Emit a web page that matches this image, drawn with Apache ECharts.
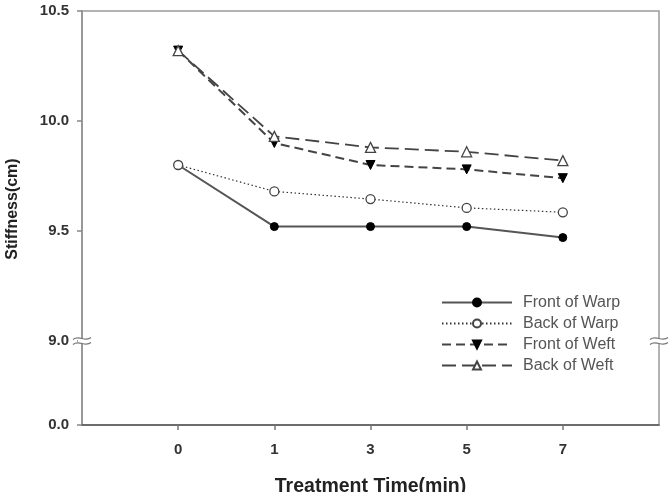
<!DOCTYPE html>
<html><head><meta charset="utf-8">
<script src="https://cdn.jsdelivr.net/npm/echarts@6/dist/echarts.min.js"></script>
<style>html,body{margin:0;padding:0;background:#fff}#c{width:670px;height:492px}</style>
</head><body><div id="c"></div>
<script>
// Treatment time categories (min) and their positions on the x axis
const timeLabels = ['0', '1', '3', '5', '7'];
const xPos = [1, 2, 3, 4, 5];
// Stiffness (cm)
const frontWarp = [9.80, 9.52, 9.52, 9.52, 9.47];
const backWarp  = [9.80, 9.68, 9.645, 9.605, 9.585];
const frontWeft = [10.32, 9.90, 9.80, 9.78, 9.74];
const backWeft  = [10.32, 9.93, 9.88, 9.86, 9.82];
// y tick labels (broken axis: 0.0 then 9.0 .. 10.5)
const yTickLabels = ['0.0', '9.0', '9.5', '10.0', '10.5'];
const yTickValues = [0, 9, 9.5, 10, 10.5];

// Broken-axis transform: values >= 9 map linearly; 0 maps just below 9
const BREAK = 9, ZERO_POS = 8.618;
function tf(v){ return v >= BREAK ? v : ZERO_POS + (v / BREAK) * (BREAK - ZERO_POS); }
const yTicksT = yTickValues.map(tf);

function pts(arr){ return arr.map((v,i)=>[xPos[i], tf(v)]); }

const chart = echarts.init(document.getElementById('c'), null, {renderer:'canvas'});
const font = 'Liberation Sans, Arial, sans-serif';
const opt = {
  animation:false,
  backgroundColor:'#fff',
  grid:{left:82, right:11, top:11, bottom:67, containLabel:false, outerBoundsMode:'none',
        show:true, borderColor:'#9a9a9a', borderWidth:1.5, backgroundColor:'transparent'},
  legend:{
    orient:'vertical', left:436, top:288, itemWidth:70, itemHeight:10, itemGap:2,
    textStyle:{fontFamily:font, fontSize:16, lineHeight:19, color:'#555', padding:[0,0,0,6]},
    data:['Front of Warp','Back of Warp','Front of Weft','Back of Weft']
  },
  xAxis:{
    type:'value', min:0, max:6, interval:1,
    name:'Treatment Time(min)', nameLocation:'middle', nameGap:52,
    nameTextStyle:{fontFamily:font, fontSize:19.5, fontWeight:'bold', color:'#222'},
    axisLine:{show:true, lineStyle:{color:'#555', width:1.5}},
    axisTick:{show:true, length:5, inside:false, customValues:xPos, lineStyle:{color:'#777', width:1.5}},
    axisLabel:{customValues:xPos, margin:17, fontFamily:font, fontSize:15, fontWeight:'bold', color:'#333',
      formatter:(v)=>{const i=xPos.indexOf(Math.round(v)); return i>=0?timeLabels[i]:'';}},
    splitLine:{show:false}
  },
  yAxis:{
    type:'value', min:ZERO_POS, max:10.5,
    name:'Stiffness(cm)', nameLocation:'middle', nameGap:61,
    nameTextStyle:{fontFamily:font, fontSize:16, fontWeight:'bold', color:'#222', padding:[0,0,0,18]},
    axisLine:{show:true, lineStyle:{color:'#999', width:2}},
    axisTick:{show:true, length:5, customValues:yTicksT, lineStyle:{color:'#888', width:1.5}},
    axisLabel:{customValues:yTicksT, margin:13, fontFamily:font, fontSize:15, fontWeight:'bold', color:'#333',
      formatter:(v)=>{let best=0; yTicksT.forEach((t,i)=>{if(Math.abs(t-v)<Math.abs(yTicksT[best]-v)) best=i;}); return yTickLabels[best];}},
    splitLine:{show:false}
  },
  series:[
    {name:'Front of Warp', type:'line', data:pts(frontWarp), symbol:'circle', symbolSize:8,
     lineStyle:{color:'#555', width:2, type:'solid'}, itemStyle:{color:'#000', borderColor:'#000', borderWidth:1}, z:3},
    {name:'Back of Warp', type:'line', data:pts(backWarp), symbol:'circle', symbolSize:9,
     lineStyle:{color:'#333', width:1.2, type:[1.5,2.5]}, itemStyle:{color:'#fff', borderColor:'#444', borderWidth:1.3}, z:4},
    {name:'Front of Weft', type:'line', data:pts(frontWeft), symbol:'triangle', symbolRotate:180, symbolSize:9,
     lineStyle:{color:'#444', width:2, type:[9,5]}, itemStyle:{color:'#000', borderColor:'#000', borderWidth:1}, z:3},
    {name:'Back of Weft', type:'line', data:pts(backWeft), symbol:'triangle', symbolSize:10,
     lineStyle:{color:'#444', width:1.8, type:[14,6]}, itemStyle:{color:'#fff', borderColor:'#444', borderWidth:1.3}, z:4}
  ]
};
chart.setOption(opt);

// axis-break marks at the 9.0 level on both sides
function breakMark(px){
  const [x, y] = px;
  const wave = (dy)=>({type:'bezierCurve', shape:{x1:x-9,y1:y+dy+1,x2:x+9,y2:y+dy-1,cpx1:x-3,cpy1:y+dy-4,cpx2:x+3,cpy2:y+dy+4},
    style:{stroke:'#777', lineWidth:1.2, fill:null}, z:100});
  return [
    {type:'rect', shape:{x:x-4,y:y-2,width:8,height:4}, style:{fill:'#fff'}, z:99},
    wave(-2.5), wave(2.5)
  ];
}
const gL = chart.convertToPixel({gridIndex:0}, [0, BREAK]);
const gR = chart.convertToPixel({gridIndex:0}, [6, BREAK]);
chart.setOption({graphic:{elements:[...breakMark(gL), ...breakMark(gR)]}});
</script>
</body></html>
